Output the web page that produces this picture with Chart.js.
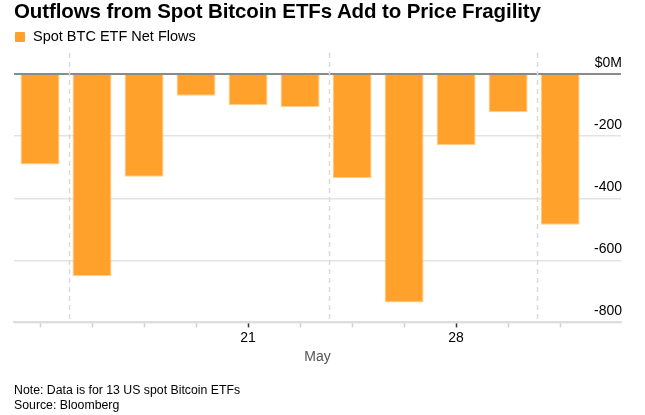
<!DOCTYPE html>
<html>
<head>
<meta charset="utf-8">
<script src="https://cdn.jsdelivr.net/npm/chart.js@4"></script>
<style>
  html, body { margin: 0; padding: 0; background: #fff; }
  #wrap { position: relative; width: 645px; height: 415px; overflow: hidden; font-family: "Liberation Sans", Arial, sans-serif; }
  #chart { position: absolute; left: 0; top: 0; }
  .title { position: absolute; left: 14px; top: -1px; font-size: 20.5px; font-weight: bold; color: #000; white-space: nowrap; letter-spacing: -0.1px; }
  .legend { position: absolute; left: 15px; top: 28px; font-size: 14.5px; color: #000; white-space: nowrap; }
  .legend .sw { display: inline-block; width: 10px; height: 10px; background: #ffa12b; border-radius: 1px; margin-right: 8px; vertical-align: -1px; }
  .foot { position: absolute; left: 14px; font-size: 12.3px; color: #000; white-space: nowrap; }
</style>
</head>
<body>
<div id="wrap">
  <canvas id="chart" width="645" height="415"></canvas>
  <div class="title">Outflows from Spot Bitcoin ETFs Add to Price Fragility</div>
  <div class="legend"><span class="sw"></span>Spot BTC ETF Net Flows</div>
  <div class="foot" style="top:383px">Note: Data is for 13 US spot Bitcoin ETFs</div>
  <div class="foot" style="top:398px">Source: Bloomberg</div>
</div>
<script>
// trading days shown in the chart
const dates = ["May 15", "May 16", "May 19", "May 20", "May 21", "May 22", "May 23", "May 27", "May 28", "May 29", "May 30"];
// net flows, $M
const flows = [-291, -651, -331, -70, -100, -106, -335, -736, -229, -123, -485];
const yTicks = [0, -200, -400, -600, -800];
const xTickDays = ["21", "28"];
// the dashed separators come after these bars
const breakAfter = [0, 5, 9];

const orange = "#ffa12b";
const fontFamily = "'Liberation Sans', Arial, sans-serif";

const dayOf = (i) => dates[i].split(" ")[1];

const breakLines = {
  id: "breakLines",
  beforeDatasetsDraw(chart) {
    const { ctx, chartArea, scales } = chart;
    ctx.save();
    ctx.strokeStyle = "#d9d9d9";
    ctx.lineWidth = 1.5;
    ctx.setLineDash([5, 4]);
    breakAfter.forEach((i) => {
      const x = Math.round(scales.x.getPixelForValue(i + 0.55)) + 0.5;
      ctx.beginPath();
      ctx.moveTo(x, chartArea.top);
      ctx.lineTo(x, chartArea.bottom);
      ctx.stroke();
    });
    ctx.restore();
  },
};

new Chart(document.getElementById("chart"), {
  type: "bar",
  data: {
    datasets: [
      {
        label: "Spot BTC ETF Net Flows",
        data: flows.map((v, i) => ({ x: i, y: v })),
        backgroundColor: orange,
        borderColor: "#ffcf8f",
        borderWidth: 1,
        borderSkipped: "start",
        barPercentage: 0.75,
        categoryPercentage: 1,
      },
    ],
  },
  options: {
    responsive: false,
    animation: false,
    layout: { padding: { top: 53, left: 14, right: 22, bottom: 49 } },
    plugins: { legend: { display: false }, tooltip: { enabled: false } },
    scales: {
      x: {
        type: "linear",
        offset: false,
        min: -0.5,
        max: 11.17,
        afterBuildTicks: (scale) => {
          scale.ticks = dates.map((d, i) => ({ value: i }));
        },
        ticks: {
          autoSkip: false,
          maxRotation: 0,
          padding: 2,
          color: "#000",
          font: { family: fontFamily, size: 14 },
          callback: (v) => (xTickDays.includes(dayOf(v)) ? dayOf(v) : ""),
        },
        grid: {
          offset: false,
          drawOnChartArea: false,
          drawTicks: true,
          tickLength: 5,
          tickWidth: 1.5,
          tickColor: (c) => (c.tick && xTickDays.includes(dayOf(c.tick.value)) ? "#333" : "#d0d0d0"),
        },
        border: { display: true, color: "#dedede", width: 2 },
        title: {
          display: true,
          text: "May",
          color: "#555",
          font: { family: fontFamily, size: 14 },
          padding: { top: 1, bottom: 0 },
        },
      },
      y: {
        position: "right",
        min: -800,
        max: 68,
        afterBuildTicks: (scale) => {
          scale.ticks = yTicks.map((v) => ({ value: v }));
        },
        ticks: {
          mirror: true,
          padding: 1,
          labelOffset: -11,
          color: "#000",
          font: { family: fontFamily, size: 14 },
          callback: (v) => (v === 0 ? "$0M" : String(v)),
        },
        grid: {
          drawTicks: false,
          color: (c) => (c.tick && c.tick.value === 0 ? "#8a8a8a" : "#e3e3e3"),
          lineWidth: (c) => (c.tick && c.tick.value === 0 ? 2 : 1.5),
        },
        border: { display: false },
      },
    },
  },
  plugins: [breakLines],
});
</script>
</body>
</html>
